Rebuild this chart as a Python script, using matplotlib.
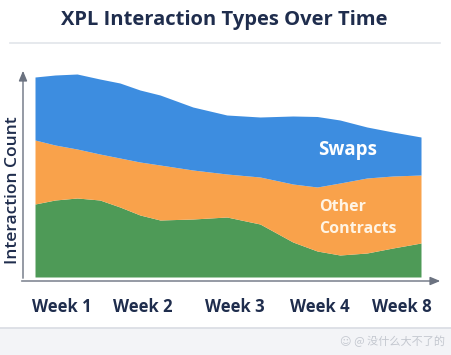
import matplotlib
matplotlib.use("Agg")
import matplotlib.pyplot as plt
from matplotlib.patches import Rectangle
from matplotlib.lines import Line2D

plt.rcParams['font.family'] = ['Open Sans', 'DejaVu Sans']

# timeline positions (0 = first sample, 100 = last sample)
t = [0, 5.2, 10.9, 16.8, 22.0, 27.2, 32.4, 40.9, 49.7, 58.3, 66.8, 73.1, 79.0, 86.0, 92.7, 100]
# stacked series (interaction counts)
base_tx = [730, 770, 790, 770, 700, 620, 570, 580, 600, 530, 350, 260, 220, 240, 290, 340]
other_contracts = [640, 550, 490, 460, 490, 530, 550, 490, 430, 470, 580, 640, 720, 750, 720, 680]
swaps = [630, 700, 750, 750, 750, 720, 700, 630, 590, 600, 680, 705, 630, 510, 440, 380]

tick_pos = [7.0, 28.0, 51.8, 73.8, 95.1]
tick_labels = ["Week 1", "Week 2", "Week 3", "Week 4", "Week 8"]

c_green = "#4e9a57"
c_orange = "#f9a24b"
c_blue = "#3d8de0"
navy = "#1f2d4d"
axis_gray = "#6b7280"

W, H = 452, 355
fig = plt.figure(figsize=(W / 100, H / 100), dpi=100)
fig.patch.set_facecolor("white")

# footer band
fig.add_artist(Rectangle((0, 0), 1, 1 - 328 / H, transform=fig.transFigure,
                         facecolor="#f3f4f7", edgecolor="none", zorder=0))
fig.add_artist(Line2D([0, 1], [1 - 327.5 / H] * 2, transform=fig.transFigure,
                      color="#d9dce3", lw=1.2, zorder=1))
# title separator
fig.add_artist(Line2D([10 / W, 440 / W], [1 - 43 / H] * 2, transform=fig.transFigure,
                      color="#e2e5ea", lw=1.2))

fig.text(224 / W, 1 - 20 / H, "XPL Interaction Types Over Time", ha="center", va="center",
         fontsize=14.5, fontweight="bold", color=navy)

ax = fig.add_axes([23 / W, 1 - 281 / H, (443 - 23) / W, (281 - 68) / H])
ax.set_facecolor("none")

lo = [0] * len(t)
y1 = [a for a in base_tx]
y2 = [a + b for a, b in zip(base_tx, other_contracts)]
y3 = [a + b + c for a, b, c in zip(base_tx, other_contracts, swaps)]
ax.fill_between(t, lo, y1, color=c_green, lw=0)
ax.fill_between(t, y1, y2, color=c_orange, lw=0)
ax.fill_between(t, y2, y3, color=c_blue, lw=0)

ax.set_xlim(-3.11, 105.7)
ax.set_ylim(-40, 2090)

for s in ax.spines.values():
    s.set_visible(False)
ax.set_yticks([])
ax.set_xticks(tick_pos)
ax.set_xticklabels(tick_labels, fontsize=12, fontweight="bold", color=navy)
ax.tick_params(axis="x", length=0, pad=12)

# axes with arrows
ax.annotate("", xy=(0, 1.0), xytext=(0, 0), xycoords="axes fraction",
            arrowprops=dict(arrowstyle="-|>,head_length=0.6,head_width=0.25", color=axis_gray, lw=1.0))
ax.annotate("", xy=(1.0, 0), xytext=(-0.01, 0), xycoords="axes fraction",
            arrowprops=dict(arrowstyle="-|>,head_length=0.6,head_width=0.25", color=axis_gray, lw=1.0))

fig.text(13 / W, 1 - 190 / H, "Interaction Count", rotation=90, ha="center", va="center",
         fontsize=12.5, fontweight="semibold", color=navy)

ax.text(81.0, 1270, "Swaps", ha="center", va="center", fontsize=13.5, fontweight="bold", color="white")
ax.text(73.5, 590, "Other\nContracts", ha="left", va="center", fontsize=11.5, fontweight="bold",
        color="#fff4e4", linespacing=1.45)

fig.text(445 / W, 1 - 341 / H, "\u263a @ 没什么大不了的", ha="right", va="center", fontsize=8,
         color="#c3c7cf", family=["Noto Sans CJK SC", "DejaVu Sans"])

fig.savefig("out.png", dpi=100)
